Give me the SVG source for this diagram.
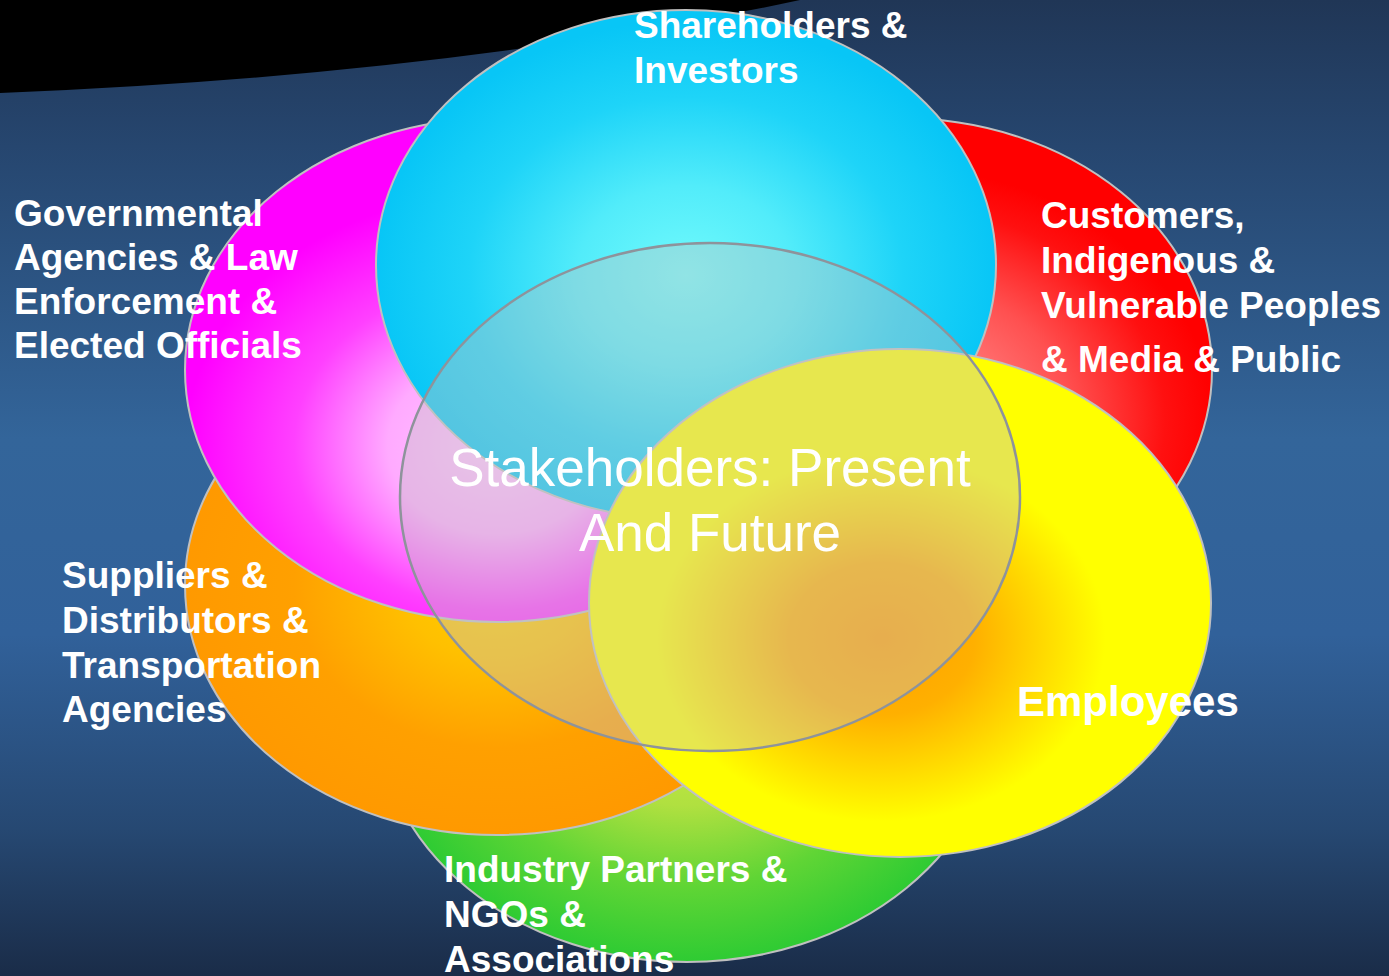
<svg xmlns="http://www.w3.org/2000/svg" width="1389" height="976" viewBox="0 0 1389 976">
  <defs>
    <linearGradient id="bg" x1="0" y1="0" x2="0" y2="1">
      <stop offset="0" stop-color="#203656"/>
      <stop offset="0.15" stop-color="#26466f"/>
      <stop offset="0.45" stop-color="#33659a"/>
      <stop offset="0.65" stop-color="#31619a"/>
      <stop offset="0.85" stop-color="#264872"/>
      <stop offset="1" stop-color="#1a2c48"/>
    </linearGradient>
    <radialGradient id="gCyan" cx="0.5" cy="0.52" r="0.5">
      <stop offset="0" stop-color="#70fafc"/>
      <stop offset="0.35" stop-color="#52ecfa"/>
      <stop offset="0.7" stop-color="#1ed4f8"/>
      <stop offset="1" stop-color="#08c6f6"/>
    </radialGradient>
    <radialGradient id="gMag" cx="0.5" cy="0.65" r="0.5">
      <stop offset="0" stop-color="#ffc8ff"/>
      <stop offset="0.35" stop-color="#ffaaff"/>
      <stop offset="0.65" stop-color="#ff40ff"/>
      <stop offset="1" stop-color="#ff00ff"/>
    </radialGradient>
    <radialGradient id="gRed" cx="0.5" cy="0.6" r="0.5">
      <stop offset="0" stop-color="#ffa8a8"/>
      <stop offset="0.3" stop-color="#ff7575"/>
      <stop offset="0.55" stop-color="#ff5050"/>
      <stop offset="0.85" stop-color="#ff1010"/>
      <stop offset="1" stop-color="#ff0000"/>
    </radialGradient>
    <radialGradient id="gOrange" cx="0.5" cy="0.5" r="0.5">
      <stop offset="0" stop-color="#ffd000"/>
      <stop offset="0.3" stop-color="#ffc000"/>
      <stop offset="0.65" stop-color="#ffa000"/>
      <stop offset="1" stop-color="#ff9900"/>
    </radialGradient>
    <radialGradient id="gGreen" cx="0.5" cy="0.5" r="0.5">
      <stop offset="0" stop-color="#d0ee40"/>
      <stop offset="0.38" stop-color="#b0e040"/>
      <stop offset="0.7" stop-color="#60d535"/>
      <stop offset="1" stop-color="#2ecb33"/>
    </radialGradient>
    <radialGradient id="gYellow" cx="0.47" cy="0.57" r="0.5">
      <stop offset="0" stop-color="#ffa000"/>
      <stop offset="0.3" stop-color="#ffb000"/>
      <stop offset="0.72" stop-color="#ffff00"/>
      <stop offset="1" stop-color="#ffff00"/>
    </radialGradient>
    <style>
      .petal { stroke: #c0c0c0; stroke-width: 2; }
      .core { fill: #c3c3c3; fill-opacity: 0.4; stroke: #8e939b; stroke-width: 2.5; }
      .lbl { font-family: "Liberation Sans", Arial, sans-serif; font-weight: bold; font-size: 37px; fill: #ffffff; }
      .big { font-size: 42px; }
      .ctr { font-family: "Liberation Sans", Arial, sans-serif; font-size: 53px; fill: #ffffff; text-anchor: middle; }
    </style>
  </defs>

  <rect id="background" x="0" y="0" width="1389" height="976" fill="url(#bg)"/>
  <path id="top-shape" d="M0,0 L0,93 Q450,75 800,0 Z" fill="#000000"/>

  <g id="node-industry">
    <ellipse class="petal" cx="687" cy="710" rx="310" ry="252" fill="url(#gGreen)"/>
    <text class="lbl"><tspan x="444" y="882">Industry Partners &amp;</tspan><tspan x="444" y="927">NGOs &amp;</tspan><tspan x="444" y="972">Associations</tspan></text>
  </g>

  <g id="node-customers">
    <ellipse class="petal" cx="900" cy="370" rx="312" ry="252" fill="url(#gRed)"/>
    <text class="lbl"><tspan x="1041" y="228">Customers,</tspan><tspan x="1041" y="273">Indigenous &amp;</tspan><tspan x="1041" y="318">Vulnerable Peoples</tspan><tspan x="1041" y="372">&amp; Media &amp; Public</tspan></text>
  </g>

  <g id="node-suppliers">
    <ellipse class="petal" cx="497" cy="585" rx="312" ry="250" fill="url(#gOrange)"/>
    <text class="lbl"><tspan x="62" y="588">Suppliers &amp;</tspan><tspan x="62" y="633">Distributors &amp;</tspan><tspan x="62" y="678">Transportation</tspan><tspan x="62" y="722">Agencies</tspan></text>
  </g>

  <g id="node-governmental">
    <ellipse class="petal" cx="497" cy="370" rx="312" ry="252" fill="url(#gMag)"/>
    <text class="lbl"><tspan x="14" y="226">Governmental</tspan><tspan x="14" y="270">Agencies &amp; Law</tspan><tspan x="14" y="314">Enforcement &amp;</tspan><tspan x="14" y="358">Elected Officials</tspan></text>
  </g>

  <g id="node-shareholders">
    <ellipse class="petal" cx="686" cy="265" rx="310" ry="255" fill="url(#gCyan)"/>
    <text class="lbl"><tspan x="634" y="38">Shareholders &amp;</tspan><tspan x="634" y="83">Investors</tspan></text>
  </g>

  <g id="node-employees">
    <ellipse class="petal" cx="900" cy="603" rx="311" ry="254" fill="url(#gYellow)"/>
    <text class="lbl big" x="1017" y="716">Employees</text>
  </g>

  <g id="node-center">
    <ellipse class="core" cx="710" cy="497" rx="310" ry="254"/>
    <text class="ctr"><tspan x="710" y="486">Stakeholders: Present</tspan><tspan x="710" y="551">And Future</tspan></text>
  </g>
</svg>
